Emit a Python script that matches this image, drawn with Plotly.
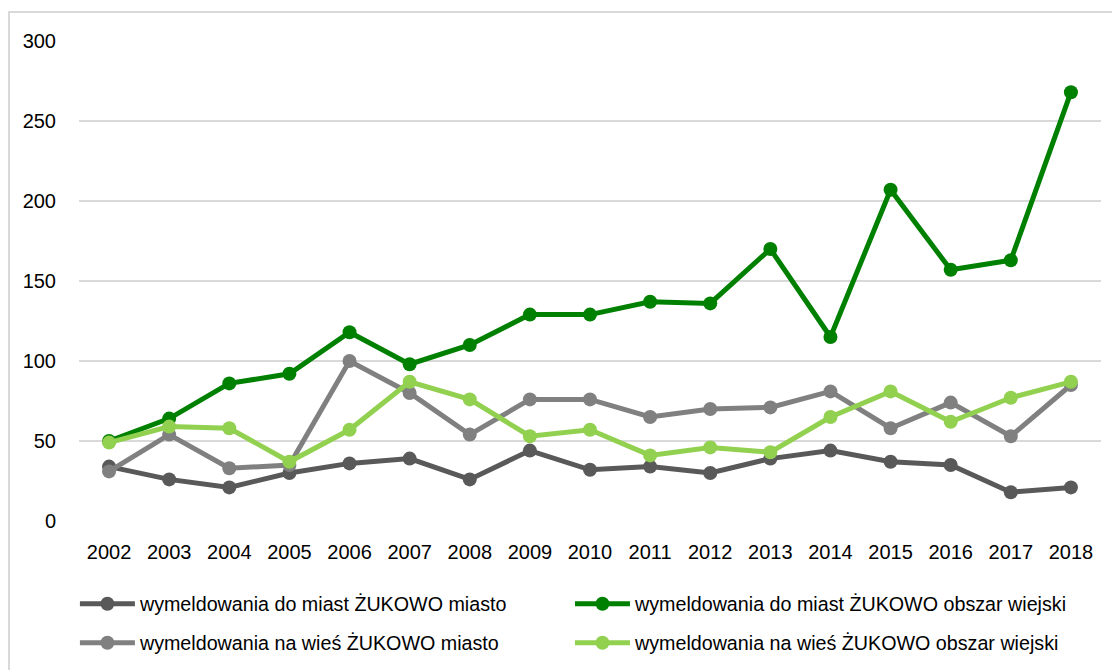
import plotly.graph_objects as go

years = [str(y) for y in range(2002, 2019)]
do_miast_miasto = [34, 26, 21, 30, 36, 39, 26, 44, 32, 34, 30, 39, 44, 37, 35, 18, 21]
do_miast_wies = [50, 64, 86, 92, 118, 98, 110, 129, 129, 137, 136, 170, 115, 207, 157, 163, 268]
na_wies_miasto = [31, 54, 33, 35, 100, 80, 54, 76, 76, 65, 70, 71, 81, 58, 74, 53, 85]
na_wies_wies = [49, 59, 58, 37, 57, 87, 76, 53, 57, 41, 46, 43, 65, 81, 62, 77, 87]

names = [
    "wymeldowania do miast ŻUKOWO miasto",
    "wymeldowania do miast ŻUKOWO obszar wiejski",
    "wymeldowania na wieś ŻUKOWO miasto",
    "wymeldowania na wieś ŻUKOWO obszar wiejski",
]
colors = ["#595959", "#008000", "#808080", "#92D050"]
series = [do_miast_miasto, do_miast_wies, na_wies_miasto, na_wies_wies]
legend_ids = ["legend", "legend2", "legend3", "legend4"]

FONT = "Liberation Sans, Arial, sans-serif"

fig = go.Figure()
for n, c, s, lg in zip(names, colors, series, legend_ids):
    fig.add_trace(go.Scatter(
        x=years, y=s, name=n, mode="lines+markers",
        line=dict(color=c, width=5),
        marker=dict(color=c, size=14),
        legend=lg,
    ))

leg_common = dict(
    orientation="h", xanchor="left", yanchor="middle", itemwidth=55,
    font=dict(family=FONT, size=19.7, color="#000000"),
    bgcolor="rgba(0,0,0,0)",
)
col_x = [-0.004, 0.4804]
row_y = [-(604 - 521) / 480, -(643 - 521) / 480]

fig.update_layout(
    width=1120, height=670,
    margin=dict(l=71, r=27, t=33, b=157, autoexpand=False),
    paper_bgcolor="white", plot_bgcolor="white",
    font=dict(family=FONT, size=20, color="#000000"),
    showlegend=True,
    legend=dict(x=col_x[0], y=row_y[0], **leg_common),
    legend2=dict(x=col_x[1], y=row_y[0], **leg_common),
    legend3=dict(x=col_x[0], y=row_y[1], **leg_common),
    legend4=dict(x=col_x[1], y=row_y[1], **leg_common),
    xaxis=dict(
        type="category", range=[-0.5, 16.5], showgrid=False, zeroline=False,
        showline=False, ticks="", ticklabelstandoff=17,
    ),
    yaxis=dict(
        range=[0, 300], dtick=50, showgrid=True, gridcolor="#D9D9D9", gridwidth=2,
        zeroline=False, showline=False, ticks="", ticklabelstandoff=22,
    ),
    shapes=[dict(type="rect", xref="paper", yref="paper",
                 x0=-0.0685, x1=1.1, y0=-0.6, y1=1.0604,
                 line=dict(color="#D9D9D9", width=2), layer="below")],
)

fig.write_html("out.html")
